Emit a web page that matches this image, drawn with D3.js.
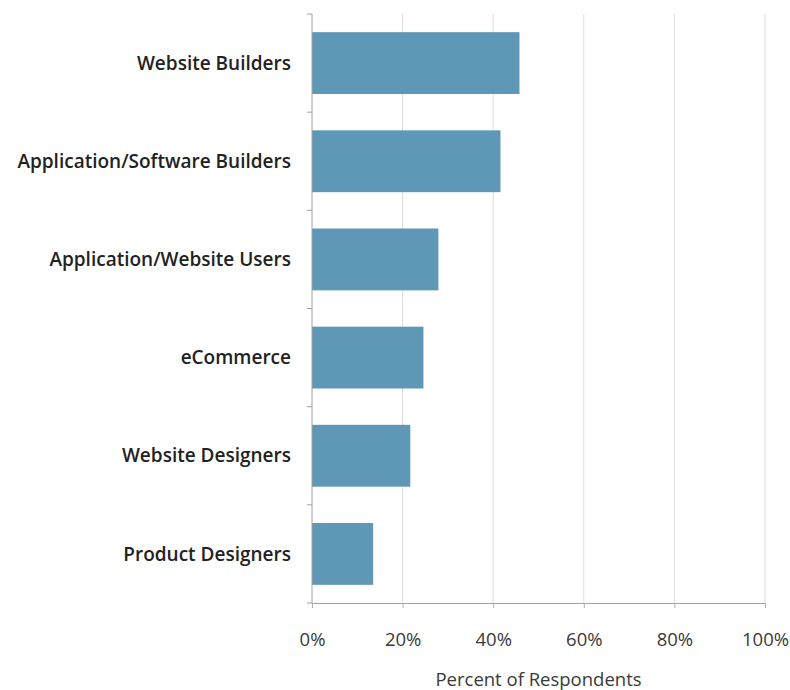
<!DOCTYPE html>
<html>
<head>
<meta charset="utf-8">
<script src="https://cdn.jsdelivr.net/npm/d3@7"></script>
<style>
  html, body { margin: 0; padding: 0; background: #fff; }
  svg { display: block; }
</style>
</head>
<body>
<svg id="chart" width="790" height="690"></svg>
<script>
// Audience groups, top to bottom
const categories = [
  "Website Builders",
  "Application/Software Builders",
  "Application/Website Users",
  "eCommerce",
  "Website Designers",
  "Product Designers"
];
// Share of respondents (%)
const values = [45.8, 41.6, 27.9, 24.6, 21.7, 13.5];
const tickValues = [0, 20, 40, 60, 80, 100];
const axisTitle = "Percent of Respondents";

const svg = d3.select("#chart");
const margin = { top: 14, left: 312, right: 25, bottom: 87 };
const W = 790, H = 690;
const innerW = W - margin.left - margin.right;
const innerH = H - margin.top - margin.bottom;

const x = d3.scaleLinear().domain([0, 100]).range([0, innerW]);
const y = d3.scaleBand().domain(categories).range([0, innerH]).paddingInner(0.37).paddingOuter(0.185);
const band = d3.scaleBand().domain(categories).range([0, innerH]);

const g = svg.append("g").attr("transform", `translate(${margin.left},${margin.top})`);

// vertical gridlines
g.selectAll("line.grid").data(tickValues.slice(1)).join("line")
  .attr("class", "grid")
  .attr("x1", d => x(d)).attr("x2", d => x(d))
  .attr("y1", 0).attr("y2", innerH)
  .attr("stroke", "#dcdcdc").attr("stroke-width", 1);

// bars
g.selectAll("rect.bar").data(categories).join("rect")
  .attr("class", "bar")
  .attr("x", 0)
  .attr("y", d => y(d))
  .attr("width", (d, i) => x(values[i]))
  .attr("height", y.bandwidth())
  .attr("fill", "#5f98b6");

// x axis
const xAxis = g.append("g").attr("transform", `translate(0,${innerH})`)
  .call(d3.axisBottom(x).tickValues(tickValues).tickFormat(d => d + "%").tickSize(5).tickSizeOuter(0).tickPadding(25));
xAxis.select(".domain").attr("stroke", "#a0a0a0");
xAxis.selectAll(".tick line").attr("stroke", "#b0b0b0");
xAxis.selectAll(".tick text")
  .attr("fill", "#3a3a3a")
  .style("font-family", "'Open Sans', sans-serif")
  .style("font-size", "18.5px");

// y axis: ticks at category boundaries
const yAxisG = g.append("g");
yAxisG.append("line")
  .attr("x1", 0).attr("x2", 0).attr("y1", 0).attr("y2", innerH)
  .attr("stroke", "#a0a0a0");
const bounds = categories.map(c => band(c)).concat([innerH]);
yAxisG.selectAll("line.yt").data(bounds).join("line")
  .attr("class", "yt")
  .attr("x1", -5).attr("x2", 0)
  .attr("y1", d => d).attr("y2", d => d)
  .attr("stroke", "#a0a0a0");

// category labels
g.selectAll("text.cat").data(categories).join("text")
  .attr("class", "cat")
  .attr("x", -21)
  .attr("y", d => y(d) + y.bandwidth() / 2)
  .attr("dy", "0.35em")
  .attr("text-anchor", "end")
  .attr("fill", "#222")
  .style("font-family", "'Open Sans', sans-serif")
  .style("font-weight", "600")
  .style("font-size", "19px")
  .text(d => d);

// axis title
svg.append("text")
  .attr("x", margin.left + innerW / 2)
  .attr("y", 686)
  .attr("text-anchor", "middle")
  .attr("fill", "#3a3a3a")
  .style("font-family", "'Open Sans', sans-serif")
  .style("font-size", "18.5px")
  .text(axisTitle);
</script>
</body>
</html>
